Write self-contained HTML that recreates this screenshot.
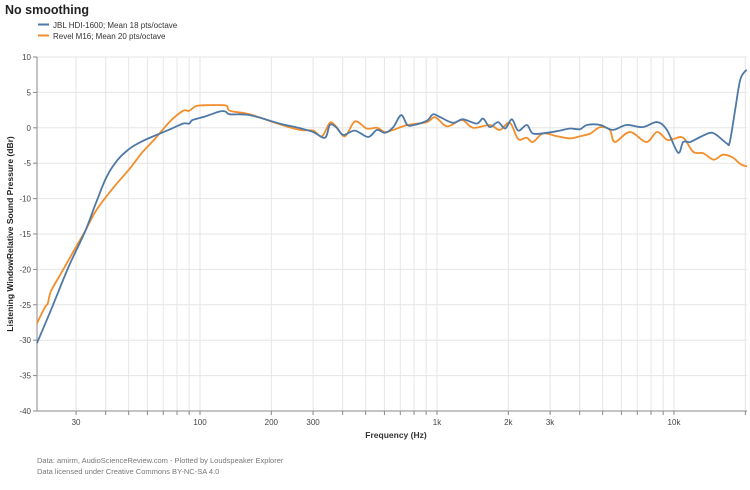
<!DOCTYPE html><html><head><style>body{margin:0;background:#fff}svg{font-family:"Liberation Sans",Arial,sans-serif}</style></head><body>
<svg id="s" width="750" height="485" xmlns="http://www.w3.org/2000/svg">
<text x="5" y="14" font-size="12.5" font-weight="bold" fill="#222">No smoothing</text>
<line x1="38" y1="24.5" x2="49" y2="24.5" stroke="#4e79a7" stroke-width="2"/>
<text x="53" y="28" font-size="8" fill="#333">JBL HDI-1600; Mean 18 pts/octave</text>
<line x1="38" y1="35.5" x2="49" y2="35.5" stroke="#f28e2b" stroke-width="2"/>
<text x="53" y="39" font-size="8" fill="#333">Revel M16; Mean 20 pts/octave</text>
<g id="grid"></g>
<g id="series"></g>
<text x="396" y="438" font-size="8.5" font-weight="bold" fill="#333" text-anchor="middle">Frequency (Hz)</text>
<text transform="translate(13,234) rotate(-90)" font-size="8.5" font-weight="bold" fill="#222" text-anchor="middle">Listening WindowRelative Sound Pressure (dBr)</text>
<text x="37" y="463" font-size="7.5" fill="#777">Data: amirm, AudioScienceReview.com - Plotted by Loudspeaker Explorer</text>
<text x="37" y="474" font-size="7.5" fill="#777">Data licensed under Creative Commons BY-NC-SA 4.0</text>
</svg>
<script>
var NS="http://www.w3.org/2000/svg";
function X(f){return 200+237*Math.log10(f/100);}
function Y(d){return 127.8-7.08*d;}
function el(p,t,a,txt){var e=document.createElementNS(NS,t);for(var k in a)e.setAttribute(k,a[k]);if(txt)e.textContent=txt;p.appendChild(e);return e;}
var g=document.getElementById("grid");
for(var d=-40;d<=10;d+=5){var y=Y(d);if(d>-40)el(g,"line",{x1:37,x2:747,y1:y,y2:y,stroke:"#e6e6e6","stroke-width":1});el(g,"line",{x1:33,x2:37,y1:y,y2:y,stroke:"#888"});el(g,"text",{x:31,y:y+3,"font-size":8,fill:"#444","text-anchor":"end"},String(d));}
var fs=[30,40,50,60,70,80,90,100,200,300,400,500,600,700,800,900,1000,2000,3000,4000,5000,6000,7000,8000,9000,10000,20000];
var lab={30:"30",100:"100",200:"200",300:"300",1000:"1k",2000:"2k",3000:"3k",10000:"10k"};
fs.forEach(function(f){var x=X(f);if(x>746)return;el(g,"line",{x1:x,x2:x,y1:57,y2:411,stroke:"#e6e6e6"});el(g,"line",{x1:x,x2:x,y1:411,y2:415,stroke:"#888"});if(lab[f])el(g,"text",{x:x,y:425,"font-size":8,fill:"#444","text-anchor":"middle"},lab[f]);});
el(g,"line",{x1:37,x2:37,y1:57,y2:411,stroke:"#888"});
el(g,"line",{x1:37,x2:747,y1:411,y2:411,stroke:"#888"});
var jbl=[[20.3,-30.4],[24,-25],[28,-19.5],[32.7,-14.7],[36.5,-10.5],[40.4,-6.9],[45,-4.5],[50.7,-2.9],[57,-1.9],[65.6,-1],[75,-0.2],[84.8,0.6],[90,0.6],[93,1.1],[105,1.6],[121,2.3],[128,2.3],[134,1.9],[162,1.8],[217,0.6],[260,0],[300,-0.6],[337,-1.4],[353,0.4],[375,0.1],[402,-1],[450,-0.4],[512,-1.3],[558,-0.3],[604,-0.7],[654,0.1],[706,1.8],[749,0.4],[800,0.4],[906,1],[963,1.9],[1033,1.5],[1168,0.7],[1285,1.2],[1470,0.6],[1566,1.3],[1670,0.1],[1810,0.8],[1940,-0.1],[2070,1.2],[2200,-0.4],[2395,0.4],[2540,-0.8],[2910,-0.7],[3300,-0.4],[3640,-0.1],[4010,-0.2],[4290,0.4],[4880,0.4],[5510,-0.3],[6300,0.4],[7370,0.1],[8480,0.8],[9330,-0.3],[10400,-3.5],[10930,-2],[11700,-2],[12900,-1.3],[14200,-0.7],[15100,-1],[16700,-2.2],[17200,-2],[18100,2.5],[19000,6.7],[19960,8],[20400,8.1]];
var rev=[[20.3,-27.6],[22.2,-25.3],[22.8,-24.8],[23.5,-23.1],[26,-20.5],[29.2,-17.5],[32.5,-14.8],[36.6,-11.6],[43,-8.5],[50.7,-5.7],[57,-3.5],[65.6,-1.3],[74.7,0.9],[84.8,2.4],[90,2.4],[96.8,3.1],[110,3.2],[122,3.2],[130,3.1],[134,2.4],[162,1.9],[217,0.5],[264,-0.3],[300,-0.4],[327,-1.2],[353,0.7],[375,0.2],[409,-1.2],[451,0.9],[505,-0.1],[558,0],[604,-0.6],[654,-0.3],[749,0.4],[906,0.8],[982,1.5],[1103,0.2],[1270,1.1],[1420,0],[1670,0.4],[1840,-0.3],[2030,0.7],[2200,-1.6],[2390,-1.4],[2540,-2],[2800,-0.8],[3220,-1.2],[3640,-1.5],[4010,-1.2],[4440,-0.8],[4880,0.1],[5360,-0.3],[5630,-2],[6520,-0.6],[7640,-2],[8480,-0.6],[9330,-1.7],[9890,-1.6],[10930,-1.4],[12060,-3.4],[13300,-3.6],[14700,-4.5],[16100,-3.8],[17700,-4.2],[19000,-5.1],[19960,-5.4],[20400,-5.4]];
var sg=document.getElementById("series");
function draw(d,c){var P=d.map(function(q){return [Math.max(37,Math.min(747,X(q[0]))),Y(q[1])];});
var s="M"+P[0][0].toFixed(1)+","+P[0][1].toFixed(1);
for(var i=0;i<P.length-1;i++){var p0=P[Math.max(0,i-1)],p1=P[i],p2=P[i+1],p3=P[Math.min(P.length-1,i+2)],t=6;
s+=" C"+(p1[0]+(p2[0]-p0[0])/t).toFixed(1)+","+(p1[1]+(p2[1]-p0[1])/t).toFixed(1)+" "+(p2[0]-(p3[0]-p1[0])/t).toFixed(1)+","+(p2[1]-(p3[1]-p1[1])/t).toFixed(1)+" "+p2[0].toFixed(1)+","+p2[1].toFixed(1);}
el(sg,"path",{d:s,fill:"none",stroke:c,"stroke-width":1.8,"stroke-linejoin":"round"});}
draw(rev,"#f28e2b");draw(jbl,"#4e79a7");
</script></body></html>
